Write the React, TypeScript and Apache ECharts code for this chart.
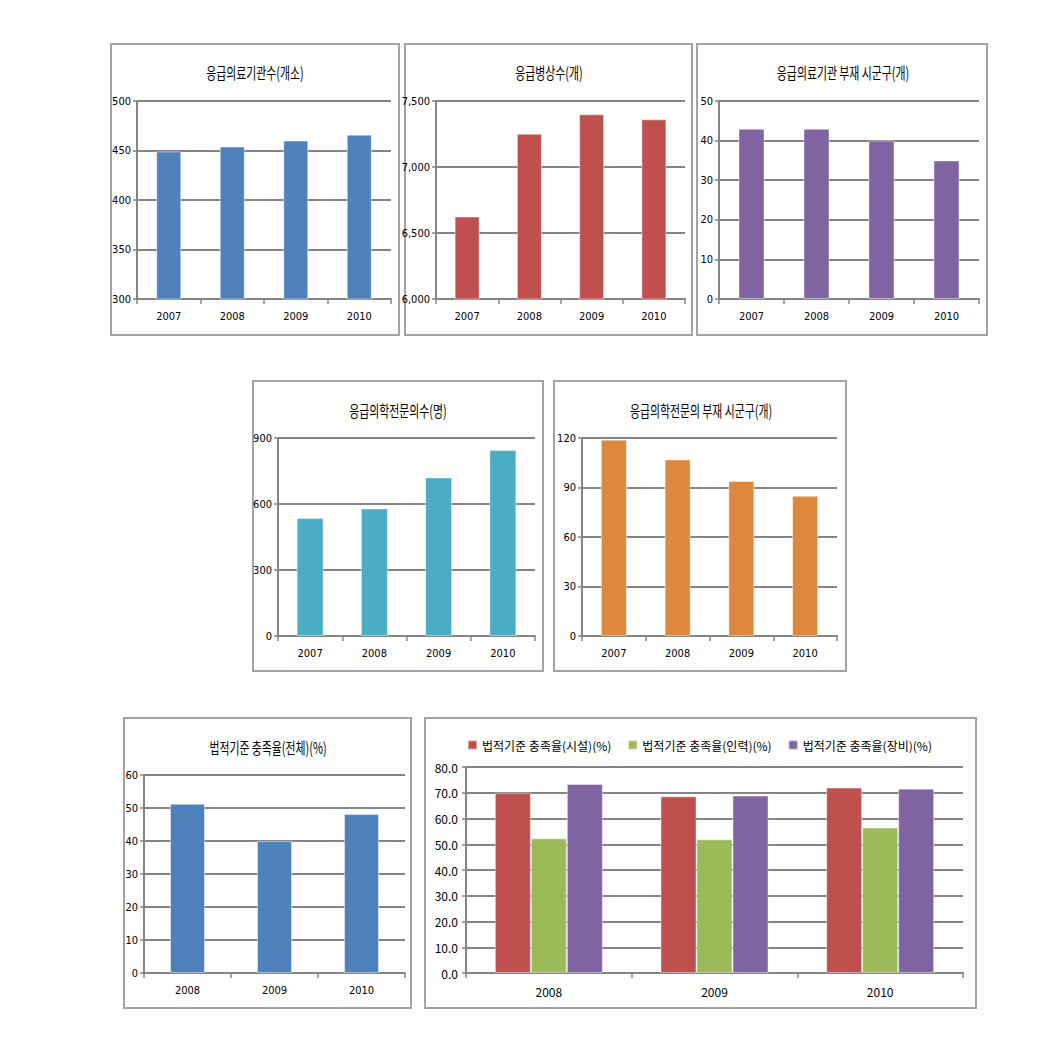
import React, { useEffect, useRef } from "react";
import * as echarts from "echarts";

// ---- data ----
const YEARS4 = ["2007", "2008", "2009", "2010"];
const YEARS3 = ["2008", "2009", "2010"];

const institutions = [449, 454, 460, 466];
const beds = [6625, 7252, 7399, 7361];
const noInstitutionRegions = [43, 43, 40, 35];
const specialists = [536, 580, 721, 845];
const noSpecialistRegions = [119, 107, 94, 85];
const overallRate = [51.3, 40.0, 48.2];
const facilityRate = [70.0, 68.6, 72.0];
const staffRate = [52.3, 51.9, 56.5];
const equipRate = [73.4, 68.9, 71.6];

const TITLES = [
  "응급의료기관수(개소)",
  "응급병상수(개)",
  "응급의료기관 부재 시군구(개)",
  "응급의학전문의수(명)",
  "응급의학전문의 부재 시군구(개)",
  "법적기준 충족율(전체)(%)",
];
const LEGEND = [
  "법적기준 충족율(시설)(%)",
  "법적기준 충족율(인력)(%)",
  "법적기준 충족율(장비)(%)",
];
// [min, max, interval]
const RANGES = [
  [300, 500, 50],
  [6000, 7500, 500],
  [0, 50, 10],
  [0, 900, 300],
  [0, 120, 30],
  [0, 60, 10],
  [0, 80, 10],
];

const NUM_FONT =
  "'Liberation Sans Narrow','DejaVu Sans Condensed','Liberation Sans',sans-serif";
const KR_FONT = "'Noto Sans CJK KR','Noto Sans',sans-serif";
const GRID_COLOR = "#858585";

const BLUE = "#4F81BD";
const RED = "#C0504D";
const PURPLE = "#8064A2";
const CYAN = "#4BACC6";
const ORANGE = "#DE883E";
const GREEN = "#9BBB59";

type Panel = {
  cats: string[];
  data: number[];
  color: string;
  fmt: (v: number) => string;
  grid: { left: number; top: number; width: number; height: number };
  box: [number, number, number, number];
  titlePos: [number, number];
  barWidth: number;
};

const plain = (v: number) => String(v);
const thousands = (v: number) => v.toLocaleString("en-US");

const panels: Panel[] = [
  { cats: YEARS4, data: institutions, color: BLUE, fmt: plain, grid: { left: 137, top: 101, width: 254, height: 198 }, box: [111, 44, 288, 291], titlePos: [255, 72], barWidth: 25 },
  { cats: YEARS4, data: beds, color: RED, fmt: thousands, grid: { left: 436, top: 101, width: 249, height: 198 }, box: [405, 44, 287, 291], titlePos: [549, 72], barWidth: 25 },
  { cats: YEARS4, data: noInstitutionRegions, color: PURPLE, fmt: plain, grid: { left: 719, top: 101, width: 260, height: 198 }, box: [697, 44, 290, 291], titlePos: [843, 72], barWidth: 26 },
  { cats: YEARS4, data: specialists, color: CYAN, fmt: plain, grid: { left: 278, top: 438, width: 257, height: 198 }, box: [253, 381, 290, 290], titlePos: [398, 410], barWidth: 27 },
  { cats: YEARS4, data: noSpecialistRegions, color: ORANGE, fmt: plain, grid: { left: 582, top: 438, width: 255, height: 198 }, box: [554, 381, 292, 290], titlePos: [701, 410], barWidth: 26 },
  { cats: YEARS3, data: overallRate, color: BLUE, fmt: plain, grid: { left: 144, top: 775, width: 261, height: 198 }, box: [124, 718, 287, 290], titlePos: [268, 747], barWidth: 35 },
];

function buildOption() {
  const grids: any[] = [];
  const xAxes: any[] = [];
  const yAxes: any[] = [];
  const series: any[] = [];
  const graphics: any[] = [];

  const axisLine = { show: true, lineStyle: { color: GRID_COLOR, width: 2 } };
  const axisTick = { show: true, length: 4, lineStyle: { color: GRID_COLOR, width: 1.5 } };

  panels.forEach((p, i) => {
    const [min, max, interval] = RANGES[i];
    grids.push({ ...p.grid });
    xAxes.push({
      type: "category",
      gridIndex: i,
      data: p.cats,
      axisLine,
      axisTick: { ...axisTick, length: 5 },
      axisLabel: { fontSize: 11, fontFamily: NUM_FONT, color: "#000", margin: 12 },
      splitLine: { show: false },
    });
    yAxes.push({
      type: "value",
      gridIndex: i,
      min,
      max,
      interval,
      axisLine,
      axisTick,
      axisLabel: { fontSize: 11, fontFamily: NUM_FONT, color: "#000", margin: 6, formatter: p.fmt },
      splitLine: { show: true, lineStyle: { color: GRID_COLOR, width: 2 } },
    });
    series.push({
      type: "bar",
      name: "s" + i,
      xAxisIndex: i,
      yAxisIndex: i,
      data: p.data,
      barWidth: p.barWidth,
      itemStyle: { color: p.color, borderColor: "rgba(255,255,255,0.45)", borderWidth: 1 },
    });
    graphics.push({
      type: "rect",
      silent: true,
      shape: { x: p.box[0], y: p.box[1], width: p.box[2], height: p.box[3] },
      style: { fill: "none", stroke: "#a3a3a3", lineWidth: 2 },
    });
    graphics.push({
      type: "text",
      silent: true,
      x: p.titlePos[0],
      y: p.titlePos[1],
      scaleX: 0.68,
      style: {
        text: TITLES[i],
        font: "16px 'Noto Sans CJK KR', 'Noto Sans', sans-serif",
        fontSize: 16,
        fontFamily: KR_FONT,
        fill: "#000",
        align: "center",
        verticalAlign: "middle",
        textAlign: "center",
        textVerticalAlign: "middle",
      },
    });
  });

  // Panel 7: grouped bars
  const gi = 6;
  const [min7, max7, int7] = RANGES[gi];
  grids.push({ left: 466, top: 767, width: 497, height: 206 });
  xAxes.push({
    type: "category",
    gridIndex: gi,
    data: YEARS3,
    axisLine,
    axisTick: { ...axisTick, length: 5 },
    axisLabel: { fontSize: 12, fontFamily: KR_FONT, color: "#000", margin: 12 },
    splitLine: { show: false },
  });
  yAxes.push({
    type: "value",
    gridIndex: gi,
    min: min7,
    max: max7,
    interval: int7,
    axisLine,
    axisTick,
    axisLabel: {
      fontSize: 12,
      fontFamily: KR_FONT,
      color: "#000",
      margin: 8,
      formatter: (v: number) => v.toFixed(1),
    },
    splitLine: { show: true, lineStyle: { color: GRID_COLOR, width: 2 } },
  });
  const groupData = [facilityRate, staffRate, equipRate];
  const groupColors = [RED, GREEN, PURPLE];
  groupData.forEach((d, k) => {
    series.push({
      type: "bar",
      name: LEGEND[k],
      xAxisIndex: gi,
      yAxisIndex: gi,
      data: d,
      barWidth: 36,
      barGap: "0%",
      itemStyle: { color: groupColors[k], borderColor: "rgba(255,255,255,0.45)", borderWidth: 1 },
    });
  });
  graphics.push({
    type: "rect",
    silent: true,
    shape: { x: 425, y: 718, width: 551, height: 290 },
    style: { fill: "none", stroke: "#a3a3a3", lineWidth: 2 },
  });

  return {
    animation: false,
    backgroundColor: "#fff",
    grid: grids,
    xAxis: xAxes,
    yAxis: yAxes,
    series,
    legend: {
      data: LEGEND,
      left: 462,
      top: 734,
      icon: "rect",
      itemWidth: 9,
      itemHeight: 9,
      itemGap: 16,
      selectedMode: false,
      textStyle: { fontSize: 12, fontFamily: KR_FONT, color: "#000" },
    },
    graphic: graphics,
  };
}

export default function App() {
  const ref = useRef<HTMLDivElement>(null);
  useEffect(() => {
    if (!ref.current) return;
    const chart = echarts.init(ref.current, undefined, { renderer: "svg" });
    chart.setOption(buildOption() as any);
    return () => chart.dispose();
  }, []);
  return (
    <div
      ref={ref}
      style={{ position: "absolute", left: 0, top: 0, width: 1041, height: 1038 }}
    />
  );
}
